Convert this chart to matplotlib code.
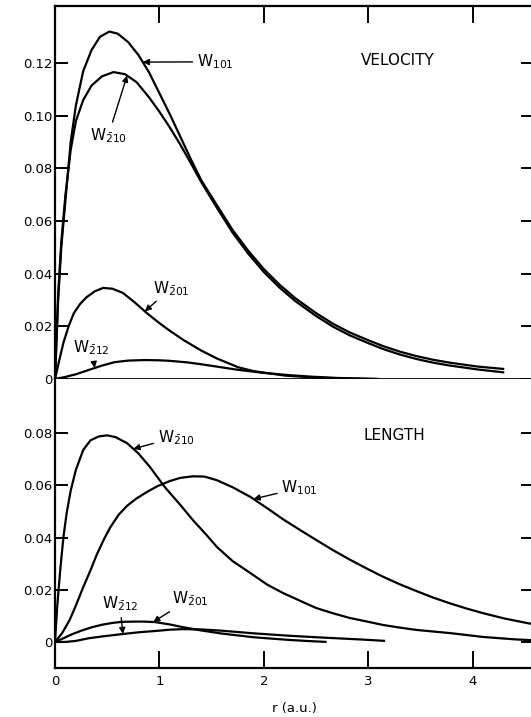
"""
Velocity vs length form integrands W(r) for the listed transitions.
Two stacked panels sharing one frame, saved as out.png.
"""

import numpy as np
import matplotlib.pyplot as plt

plt.rcParams["font.family"] = ["DejaVu Sans"]
plt.rcParams["mathtext.fontset"] = "dejavusans"

# ---- velocity panel ----
vel_w101_r = [0, 0.03, 0.06, 0.1, 0.15, 0.2, 0.27, 0.35, 0.43, 0.52, 0.6, 0.7, 0.8, 0.9,
              1.0, 1.1, 1.2, 1.3, 1.4, 1.55, 1.7, 1.85, 2.0, 2.15, 2.3, 2.5, 2.66, 2.82,
              3.0, 3.14, 3.3, 3.46, 3.62, 3.78, 4.05, 4.3]
vel_w101 = [0, 0.03, 0.05, 0.068, 0.09, 0.104, 0.117, 0.125, 0.13, 0.132, 0.1312, 0.128,
            0.123, 0.1165, 0.1085, 0.1005, 0.092, 0.0835, 0.0755, 0.066, 0.0566, 0.0487,
            0.0417, 0.0358, 0.0307, 0.025, 0.021, 0.0177, 0.0147, 0.0125, 0.0104, 0.0087,
            0.0073, 0.0062, 0.0047, 0.0038]

vel_w210_r = [0, 0.03, 0.06, 0.1, 0.15, 0.2, 0.27, 0.35, 0.45, 0.56, 0.67, 0.78, 0.9, 1.0,
              1.1, 1.2, 1.3, 1.4, 1.55, 1.7, 1.85, 2.0, 2.15, 2.3, 2.5, 2.66, 2.82, 3.0,
              3.14, 3.3, 3.46, 3.62, 3.78, 4.05, 4.3]
vel_w210 = [0, 0.032, 0.052, 0.07, 0.087, 0.098, 0.106, 0.1115, 0.115, 0.1166, 0.1158,
            0.1128, 0.107, 0.1015, 0.0955, 0.089, 0.082, 0.0748, 0.065, 0.0556, 0.0476,
            0.0406, 0.0347, 0.0296, 0.0239, 0.0199, 0.0166, 0.0136, 0.0114, 0.0093,
            0.0076, 0.0062, 0.0051, 0.0036, 0.0025]

vel_w201_r = [0, 0.04, 0.08, 0.13, 0.18, 0.24, 0.3, 0.38, 0.46, 0.55, 0.65, 0.76, 0.88,
              1.0, 1.1, 1.23, 1.4, 1.55, 1.75, 1.9, 2.2, 2.5, 2.8, 3.1]
vel_w201 = [0, 0.007, 0.0137, 0.02, 0.025, 0.0285, 0.031, 0.0333, 0.0346, 0.0343, 0.0327,
            0.0292, 0.025, 0.0212, 0.0183, 0.0148, 0.0108, 0.0078, 0.0045, 0.003,
            0.0013, 0.0005, 0.0002, 0.0]

vel_w212_r = [0, 0.1, 0.2, 0.32, 0.45, 0.57, 0.7, 0.86, 1.0, 1.1, 1.27, 1.4, 1.55, 1.75,
              2.0, 2.23, 2.45, 2.7, 2.9, 3.1]
vel_w212 = [0, 0.0008, 0.0018, 0.0034, 0.0051, 0.0064, 0.007, 0.0072, 0.0071, 0.0069,
            0.0063, 0.0056, 0.0047, 0.0035, 0.0023, 0.0015, 0.0009, 0.0004, 0.0002, 0]

# ---- length panel ----
len_w210_r = [0, 0.02, 0.05, 0.08, 0.11, 0.15, 0.2, 0.27, 0.34, 0.42, 0.5, 0.58, 0.69,
              0.8, 0.91, 1.05, 1.2, 1.32, 1.45, 1.55, 1.7, 1.87, 2.03, 2.18, 2.35, 2.5,
              2.66, 2.82, 3.0, 3.14, 3.3, 3.46, 3.78, 4.1, 4.4, 4.6]
len_w210 = [0, 0.013, 0.0276, 0.04, 0.049, 0.058, 0.066, 0.0736, 0.0773, 0.0788, 0.0792,
            0.0785, 0.0762, 0.0722, 0.067, 0.0594, 0.0525, 0.0467, 0.041, 0.0364, 0.031,
            0.0264, 0.022, 0.0188, 0.0157, 0.013, 0.011, 0.0092, 0.0077, 0.0065, 0.0055,
            0.0046, 0.0034, 0.0019, 0.001, 0.0006]

len_w101_r = [0, 0.07, 0.14, 0.2, 0.27, 0.34, 0.4, 0.47, 0.53, 0.61, 0.69, 0.78, 0.88,
              0.98, 1.1, 1.2, 1.32, 1.43, 1.55, 1.7, 1.87, 2.03, 2.18, 2.35, 2.5, 2.66,
              2.82, 3.0, 3.14, 3.3, 3.46, 3.62, 3.78, 3.94, 4.1, 4.3, 4.6]
len_w101 = [0, 0.0035, 0.0084, 0.014, 0.021, 0.0275, 0.0335, 0.0395, 0.044, 0.0488, 0.0522,
            0.055, 0.0575, 0.0597, 0.0617, 0.0629, 0.0635, 0.0634, 0.062, 0.0593, 0.0556,
            0.0513, 0.0471, 0.0428, 0.0391, 0.0352, 0.0316, 0.0278, 0.025, 0.0221, 0.0195,
            0.017, 0.0148, 0.0128, 0.011, 0.009, 0.0066]

len_w201_r = [0, 0.08, 0.16, 0.25, 0.35, 0.45, 0.55, 0.64, 0.75, 0.85, 0.96, 1.1, 1.22,
              1.4, 1.6, 1.9, 2.23, 2.4, 2.6]
len_w201 = [0, 0.0014, 0.0029, 0.0043, 0.0056, 0.0066, 0.0073, 0.0077, 0.0078, 0.0078,
            0.0076, 0.0067, 0.0057, 0.0044, 0.0032, 0.0018, 0.0008, 0.0004, 0.0]

len_w212_r = [0, 0.1, 0.2, 0.26, 0.32, 0.45, 0.64, 0.8, 0.96, 1.1, 1.22, 1.4, 1.6, 1.9,
              2.23, 2.5, 2.7, 2.95, 3.16]
len_w212 = [0, 0.0, 0.0004, 0.0009, 0.0014, 0.0021, 0.003, 0.0037, 0.0042, 0.0047, 0.0049,
            0.0048, 0.0043, 0.0033, 0.0024, 0.0018, 0.0014, 0.0009, 0.0004]

x_ticks = [0, 1, 2, 3, 4]
vel_yticks = [0, 0.02, 0.04, 0.06, 0.08, 0.10, 0.12]
vel_yticklabels = ["0", "0.02", "0.04", "0.06", "0.08", "0.10", "0.12"]
len_yticks = [0, 0.02, 0.04, 0.06, 0.08]
len_yticklabels = ["0", "0.02", "0.04", "0.06", "0.08"]

LW = 1.6
TXT = 9.5


def label_curve(ax, text, r_data, v_data, r_tip, xytext):
    tip = (r_tip, np.interp(r_tip, r_data, v_data))
    ax.annotate(text, xy=tip, xytext=xytext, ha="center", va="center", fontsize=11,
                arrowprops=dict(arrowstyle="-|>", color="black", lw=1.0,
                                mutation_scale=9, shrinkA=1, shrinkB=0))


def style_axis(ax, yticks, yticklabels):
    ax.set_yticks(yticks)
    ax.set_yticklabels(yticklabels)
    ax.set_xticks(x_ticks)
    ax.tick_params(axis="y", direction="in", length=9, width=1.4, left=True, right=True,
                   labelsize=TXT, pad=2)
    for s in ax.spines.values():
        s.set_linewidth(1.6)
    ax.spines["right"].set_visible(False)


fig = plt.figure(figsize=(5.31, 7.17), dpi=100)
x_max = (533 - 55) / 104.5
ax_v = fig.add_axes([0.1036, 0.4714, 0.9, 0.5202])
ax_l = fig.add_axes([0.1036, 0.0683, 0.9, 0.4031])

# velocity
for r, w in [(vel_w101_r, vel_w101), (vel_w210_r, vel_w210),
             (vel_w201_r, vel_w201), (vel_w212_r, vel_w212)]:
    ax_v.plot(r, w, color="black", lw=LW, solid_capstyle="butt")
ax_v.set_xlim(0, x_max)
ax_v.set_ylim(0, 0.1417)
style_axis(ax_v, vel_yticks, vel_yticklabels)
ax_v.tick_params(axis="x", direction="in", length=12, width=1.4, bottom=False, top=True,
                 labelbottom=False)
ax_v.spines["bottom"].set_linewidth(2.0)
ax_v.text(3.28, 0.121, "VELOCITY", ha="center", va="center", fontsize=11)
label_curve(ax_v, r"W$_{101}$", vel_w101_r, vel_w101, 0.84, (1.53, 0.1205))
label_curve(ax_v, r"W$_{\bar{2}10}$", vel_w210_r, vel_w210, 0.69, (0.51, 0.0925))
label_curve(ax_v, r"W$_{\bar{2}01}$", vel_w201_r, vel_w201, 0.86, (1.11, 0.0345))
label_curve(ax_v, r"W$_{\bar{2}12}$", vel_w212_r, vel_w212, 0.38, (0.35, 0.0118))

# length
for r, w in [(len_w210_r, len_w210), (len_w101_r, len_w101),
             (len_w201_r, len_w201), (len_w212_r, len_w212)]:
    ax_l.plot(r, w, color="black", lw=LW, solid_capstyle="butt")
ax_l.set_xlim(0, x_max)
ax_l.set_ylim(-0.01, 0.1008)
style_axis(ax_l, len_yticks, len_yticklabels)
ax_l.spines["top"].set_visible(False)
ax_l.tick_params(axis="x", direction="in", length=12, width=1.4, top=False,
                 labelsize=TXT, pad=5)
ax_l.set_xlabel("r (a.u.)", fontsize=TXT, labelpad=10)
ax_l.text(3.25, 0.0793, "LENGTH", ha="center", va="center", fontsize=11)
label_curve(ax_l, r"W$_{\bar{2}10}$", len_w210_r, len_w210, 0.75, (1.16, 0.0785))
label_curve(ax_l, r"W$_{101}$", len_w101_r, len_w101, 1.90, (2.34, 0.059))
label_curve(ax_l, r"W$_{\bar{2}12}$", len_w212_r, len_w212, 0.65, (0.62, 0.0145))
label_curve(ax_l, r"W$_{\bar{2}01}$", len_w201_r, len_w201, 0.94, (1.29, 0.0165))

fig.savefig("out.png", dpi=100)
print("[OK] out.png")
